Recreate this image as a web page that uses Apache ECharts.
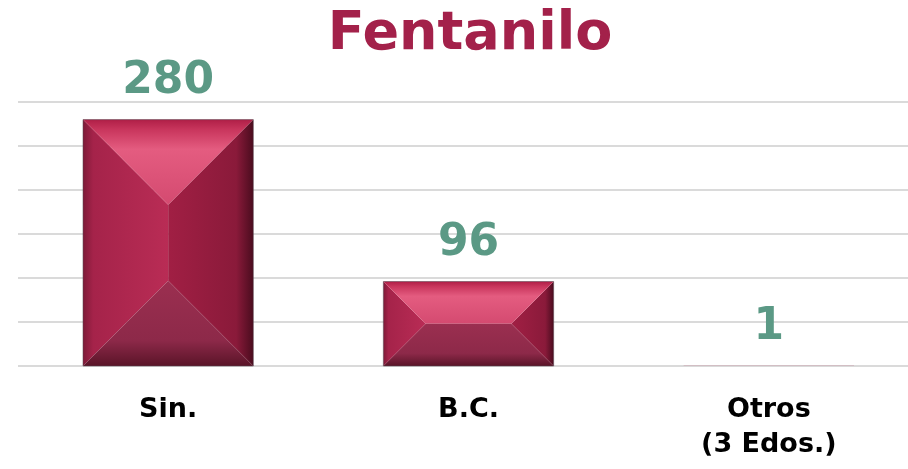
<!DOCTYPE html>
<html>
<head>
<meta charset="utf-8">
<script src="https://cdn.jsdelivr.net/npm/echarts@6/dist/echarts.min.js"></script>
<style>
  html, body { margin: 0; padding: 0; background: #ffffff; }
  #chart { width: 908px; height: 469px; }
</style>
</head>
<body>
<div id="chart"></div>
<script>
// Fentanilo: cases by state
const categories = ['Sin.', 'B.C.', 'Otros\n(3 Edos.)'];
const values = [280, 96, 1];
const yTicks = { min: 0, max: 300, interval: 50 };

const FONT = '"DejaVu Sans", "Open Sans", sans-serif';

function vGrad(stops) {
  return new echarts.graphic.LinearGradient(0, 0, 0, 1, stops.map(s => ({ offset: s[0], color: s[1] })));
}
function hGrad(stops) {
  return new echarts.graphic.LinearGradient(0, 0, 1, 0, stops.map(s => ({ offset: s[0], color: s[1] })));
}

// Bevelled bar: four facets meeting at an inner ridge
function renderBevelBar(params, api) {
  const idx = api.value(0);
  const val = api.value(1);
  const top = api.coord([idx, val]);
  const base = api.coord([idx, 0]);
  const band = api.size([1, 0])[0];
  const w = band * 0.567;
  const x0 = top[0] - w / 2, x1 = top[0] + w / 2;
  const yt = top[1], yb = base[1];
  const h = yb - yt;
  const d = Math.min(w, h) / 2;
  const ix0 = x0 + d, ix1 = x1 - d, iy0 = yt + d, iy1 = yb - d;

  const children = [];
  if (h > 3) {
    children.push(
      { type: 'polygon', shape: { points: [[x0, yt], [x0, yb], [ix0, iy1], [ix0, iy0]] },
        style: { fill: hGrad([[0, '#7e1a38'], [0.12, '#a5234a'], [1, '#b92c55']]) } },
      { type: 'polygon', shape: { points: [[x1, yt], [x1, yb], [ix1, iy1], [ix1, iy0]] },
        style: { fill: hGrad([[0, '#a11f44'], [0.8, '#8a1a3a'], [1, '#4a0c1e']]) } },
      { type: 'polygon', shape: { points: [[x0, yt], [x1, yt], [ix1, iy0], [ix0, iy0]] },
        style: { fill: vGrad([[0, '#b01f47'], [0.12, '#c9365d'], [0.35, '#e45c80'], [1, '#d44a70']]) } },
      { type: 'polygon', shape: { points: [[x0, yb], [x1, yb], [ix1, iy1], [ix0, iy1]] },
        style: { fill: vGrad([[0, '#9b2f50'], [0.7, '#8d2949'], [1, '#5a1428']]) } },
      { type: 'rect', shape: { x: x0, y: yt, width: w, height: h },
        style: { fill: 'none', stroke: 'rgba(90,70,80,0.55)', lineWidth: 1 } }
    );
  } else {
    children.push({ type: 'rect', shape: { x: x0, y: yt, width: w, height: h },
      style: { fill: 'rgba(165,35,74,0.15)' } });
  }
  children.push({
    type: 'text',
    style: {
      text: String(val), x: top[0], y: yt - 16,
      textAlign: 'center', textVerticalAlign: 'bottom',
      font: 'bold 44px ' + FONT, fill: '#5b9985'
    }
  });
  return { type: 'group', children };
}

const chart = echarts.init(document.getElementById('chart'), null, { renderer: 'canvas' });
chart.setOption({
  animation: false,
  backgroundColor: '#ffffff',
  graphic: [{
    type: 'text', x: 470, y: 8,
    style: { text: 'Fentanilo', textAlign: 'center', textVerticalAlign: 'top',
      font: 'bold 54px ' + FONT, fill: '#a3214a' }
  }],
  grid: { left: 18, top: 102, width: 901, height: 264, containLabel: false, outerBoundsMode: 'none' },
  xAxis: {
    type: 'category', data: categories,
    axisLine: { show: false }, axisTick: { show: false },
    axisLabel: { margin: 26, color: '#000000', fontFamily: FONT, fontWeight: 'bold',
      fontSize: 27, lineHeight: 35, verticalAlign: 'top' }
  },
  yAxis: {
    type: 'value', min: yTicks.min, max: yTicks.max, interval: yTicks.interval,
    axisLabel: { show: false }, axisLine: { show: false }, axisTick: { show: false },
    splitLine: { lineStyle: { color: '#dadada', width: 2 } }
  },
  series: [{
    type: 'custom',
    renderItem: renderBevelBar,
    data: values.map((v, i) => [i, v]),
    encode: { x: 0, y: 1 },
    clip: false
  }]
});
</script>
</body>
</html>
